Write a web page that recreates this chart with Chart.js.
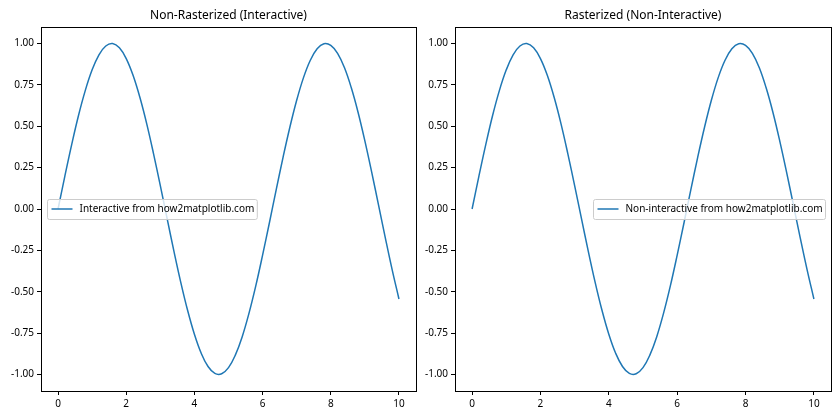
<!DOCTYPE html>
<html>
<head>
<meta charset="utf-8">
<script src="https://cdn.jsdelivr.net/npm/chart.js@4"></script>
<style>
  body { margin: 0; background: #fff; }
  .wrap { position: absolute; top: 0; width: 420px; height: 420px; }
</style>
</head>
<body>
<div class="wrap" style="left:0"><canvas id="leftChart"></canvas></div>
<div class="wrap" style="left:420px"><canvas id="rightChart"></canvas></div>
<script>
// values (same curve in both panels)
var xValues = [0, 0.2, 0.4, 0.6, 0.8, 1.0, 1.2, 1.4, 1.6, 1.8, 2.0, 2.2, 2.4, 2.6, 2.8, 3.0, 3.2, 3.4, 3.6, 3.8,
    4.0, 4.2, 4.4, 4.6, 4.8, 5.0, 5.2, 5.4, 5.6, 5.8, 6.0, 6.2, 6.4, 6.6, 6.8, 7.0, 7.2, 7.4, 7.6, 7.8,
    8.0, 8.2, 8.4, 8.6, 8.8, 9.0, 9.2, 9.4, 9.6, 9.8, 10.0];
var yValues = [0.000, 0.199, 0.389, 0.565, 0.717, 0.841, 0.932, 0.985, 1.000, 0.974, 0.909, 0.808, 0.675,
    0.516, 0.335, 0.141, -0.058, -0.256, -0.443, -0.612, -0.757, -0.872, -0.952, -0.994, -0.996, -0.959,
    -0.883, -0.773, -0.631, -0.465, -0.279, -0.083, 0.117, 0.312, 0.494, 0.657, 0.794, 0.899, 0.968, 0.999,
    0.989, 0.941, 0.855, 0.734, 0.585, 0.412, 0.223, 0.025, -0.174, -0.366, -0.544];
var xTicks = [0, 2, 4, 6, 8, 10];
var yTicks = [-1.00, -0.75, -0.50, -0.25, 0.00, 0.25, 0.50, 0.75, 1.00];
var titles = ['Non-Rasterized (Interactive)', 'Rasterized (Non-Interactive)'];
var labels = ['Interactive from how2matplotlib.com', 'Non-interactive from how2matplotlib.com'];

var FONT = '"Noto Sans", sans-serif';
var BLUE = '#1f77b4';

// axes frame on all four sides
var framePlugin = {
    id: 'frame',
    afterDatasetsDraw: function (chart) {
        var a = chart.chartArea, ctx = chart.ctx;
        ctx.save();
        ctx.strokeStyle = '#000';
        ctx.lineWidth = 1;
        ctx.strokeRect(Math.round(a.left) + 0.5, Math.round(a.top) + 0.5,
            Math.round(a.right - a.left), Math.round(a.bottom - a.top));
        ctx.restore();
    }
};

// matplotlib-style legend box inside the axes
var innerLegend = {
    id: 'innerLegend',
    afterDraw: function (chart, args, opts) {
        var ctx = chart.ctx, a = chart.chartArea;
        var ds = chart.data.datasets[0];
        ctx.save();
        ctx.font = '10px ' + FONT;
        var tw = ctx.measureText(ds.label).width;
        var w = 4 + 21 + 7 + tw + 3, h = 20;
        var cy = chart.scales.y.getPixelForValue(0);
        var x = opts.side === 'left' ? a.left + 6 : a.right - 6 - w;
        var y = Math.round(cy - h / 2) + 0.5;
        x = Math.round(x) + 0.5;
        ctx.beginPath();
        ctx.roundRect(x, y, w, h, 2);
        ctx.fillStyle = 'rgba(255,255,255,0.8)';
        ctx.fill();
        ctx.strokeStyle = '#cccccc';
        ctx.lineWidth = 1;
        ctx.stroke();
        ctx.beginPath();
        ctx.moveTo(x + 4, cy);
        ctx.lineTo(x + 25, cy);
        ctx.strokeStyle = ds.borderColor;
        ctx.lineWidth = 1.5;
        ctx.stroke();
        ctx.fillStyle = '#000';
        ctx.textBaseline = 'middle';
        ctx.fillText(ds.label, x + 32, cy + 0.5);
        ctx.restore();
    }
};

function makeChart(id, idx, yWidth, padRight, side) {
    var points = xValues.map(function (v, i) { return { x: v, y: yValues[i] }; });
    return new Chart(document.getElementById(id), {
        type: 'line',
        data: {
            datasets: [{
                label: labels[idx],
                data: points,
                borderColor: BLUE,
                borderWidth: 1.5,
                pointRadius: 0,
                fill: false,
                tension: 0.4
            }]
        },
        options: {
            responsive: false,
            animation: false,
            layout: { padding: { left: 0, right: padRight, top: 0, bottom: 0 } },
            plugins: {
                legend: { display: false },
                tooltip: { enabled: false },
                title: {
                    display: true,
                    text: titles[idx],
                    fullSize: false,
                    color: '#000',
                    font: { family: FONT, size: 12, weight: 'normal', lineHeight: 1.2 },
                    padding: { top: 8.8, bottom: 3.8 }
                },
                innerLegend: { side: side }
            },
            scales: {
                x: {
                    type: 'linear',
                    min: -0.5,
                    max: 10.5,
                    afterBuildTicks: function (s) { s.ticks = xTicks.map(function (v) { return { value: v }; }); },
                    afterFit: function (s) { s.height = 29; },
                    grid: { drawOnChartArea: false, drawTicks: true, tickLength: 4, color: '#000' },
                    border: { display: true, color: '#000' },
                    ticks: {
                        color: '#000', padding: 3, maxRotation: 0,
                        font: { family: FONT, size: 10 },
                        callback: function (v) { return String(v); }
                    }
                },
                y: {
                    type: 'linear',
                    min: -1.1,
                    max: 1.1,
                    afterBuildTicks: function (s) { s.ticks = yTicks.map(function (v) { return { value: v }; }); },
                    afterFit: function (s) { s.width = yWidth; },
                    grid: { drawOnChartArea: false, drawTicks: true, tickLength: 4, color: '#000' },
                    border: { display: true, color: '#000' },
                    ticks: {
                        color: '#000', padding: 3,
                        font: { family: FONT, size: 10 },
                        callback: function (v) { return Number(v).toFixed(2); }
                    }
                }
            }
        },
        plugins: [framePlugin, innerLegend]
    });
}

document.getElementById('leftChart').width = 420;
document.getElementById('leftChart').height = 420;
document.getElementById('rightChart').width = 420;
document.getElementById('rightChart').height = 420;
makeChart('leftChart', 0, 41, 4, 'left');
makeChart('rightChart', 1, 35, 9, 'right');
</script>
</body>
</html>
